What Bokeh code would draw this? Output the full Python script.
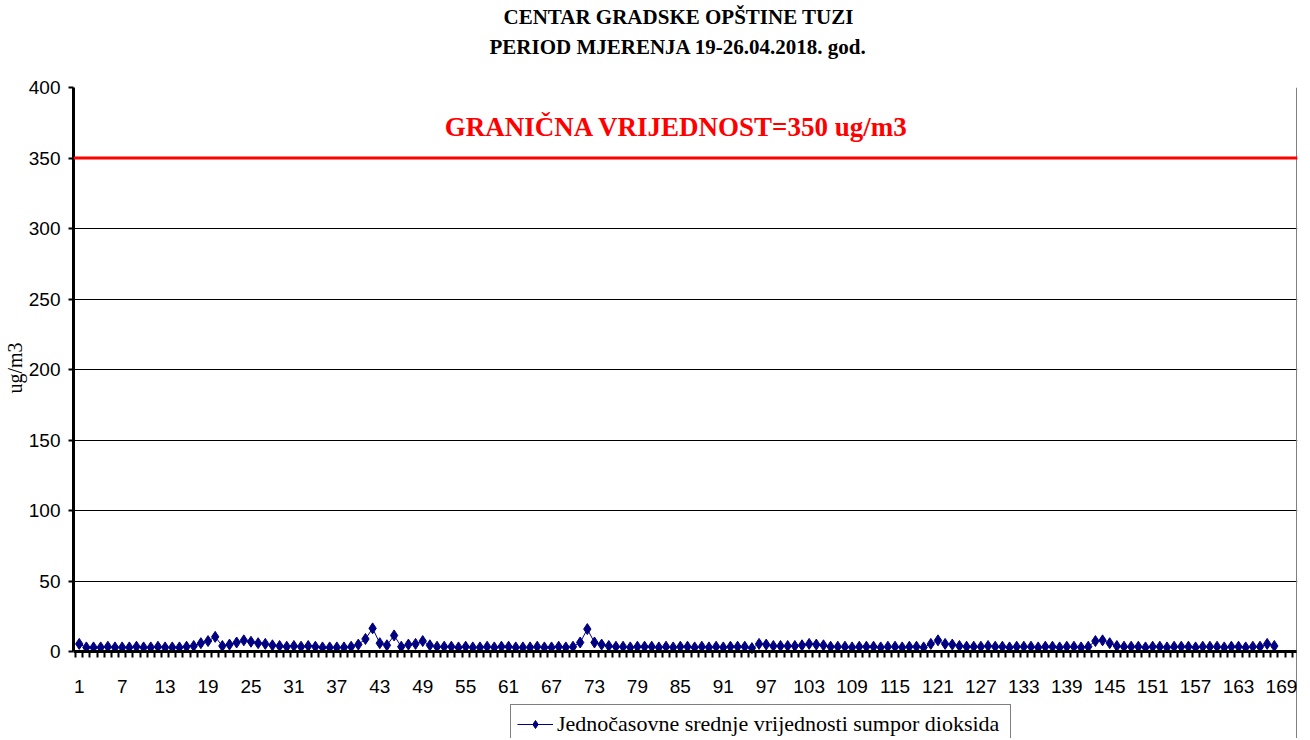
from bokeh.plotting import figure
from bokeh.models import Range1d, FixedTicker, Span, Label, Title, Legend, LegendItem, Grid
from bokeh.embed import file_html
from bokeh.resources import INLINE

hours = list(range(1, 169))
so2 = [
    5.5, 3, 3, 3, 3.5, 3, 3, 3, 3.5, 3,
    3, 3.5, 3, 3, 3, 3.5, 4, 6, 7.5, 10.5,
    4, 5, 6.5, 8, 7, 6, 5.5, 4.5, 4, 3.5,
    4, 3.5, 4, 3.5, 3, 3, 3, 3, 3.5, 5,
    9, 16.5, 6, 4.5, 11.5, 3.5, 5, 5.5, 7.5, 4.5,
    3.5, 3.5, 3.5, 3, 3.5, 3, 3, 3.5, 3, 3.5,
    3.5, 3, 3, 3, 3.5, 3, 3, 3.5, 3, 3.5,
    6.5, 16, 6.5, 5, 4, 3.5, 3.5, 3, 3.5, 3.5,
    3.5, 3, 3.5, 3, 3.5, 3.5, 3, 3.5, 3, 3.5,
    3, 3.5, 3.5, 3.5, 2.5, 5.5, 5, 4, 4, 4,
    4, 4.5, 5.5, 5, 4.5, 3.5, 3.5, 3.5, 3, 3.5,
    3.5, 3.5, 3, 3.5, 3.5, 3, 3.5, 3.5, 3, 5.5,
    8, 5.5, 5, 4, 3.5, 3.5, 3.5, 4, 3.5, 3.5,
    3, 3.5, 3.5, 3.5, 3, 3.5, 3.5, 3, 3.5, 3.5,
    3, 3.5, 7.5, 8, 6, 4, 3.5, 3.5, 3.5, 3,
    3.5, 3.5, 3, 3.5, 3.5, 3.5, 3, 3.5, 3.5, 3.5,
    3, 3.5, 3.5, 3, 3.5, 3.5, 5.5, 4,
]
x_tick_labels = [1, 7, 13, 19, 25, 31, 37, 43, 49, 55, 61, 67, 73, 79, 85, 91, 97,
                 103, 109, 115, 121, 127, 133, 139, 145, 151, 157, 163, 169]
y_ticks = [0, 50, 100, 150, 200, 250, 300, 350, 400]
limit_value = 350
title_line1 = "CENTAR GRADSKE OPŠTINE TUZI"
title_line2 = "PERIOD MJERENJA 19-26.04.2018. god."
limit_text = "GRANIČNA VRIJEDNOST=350 ug/m3"
y_title = "ug/m3"
series_name = "Jednočasovne srednje vrijednosti sumpor dioksida"

X_START, X_END, X_BORDER = 0.2, 171.24, 171.1
Y_MIN, Y_MAX = 0, 400
Y_VIEW_MIN = -61.59  # room under the axis for tick labels and legend

p = figure(width=1300, height=738, output_backend="svg", toolbar_location=None,
           x_range=Range1d(X_START, X_END), y_range=Range1d(Y_VIEW_MIN, Y_MAX),
           min_border_left=69, min_border_right=3, min_border_top=86, min_border_bottom=0,
           background_fill_color="white", border_fill_color="white")

# titles (first added sits closest to the frame)
spacer = Title(text=" ", text_font_size="1px", standoff=24)
t2 = Title(text=title_line2, align="left", offset=416, text_font="Liberation Serif",
           text_font_size="21px", text_font_style="bold", text_color="black", standoff=4)
t1 = Title(text=title_line1, align="left", offset=430, text_font="Liberation Serif",
           text_font_size="21px", text_font_style="bold", text_color="black", standoff=4)
p.add_layout(spacer, "above")
p.add_layout(t2, "above")
p.add_layout(t1, "above")

# grid and chart border
p.outline_line_color = None
p.xgrid.visible = False
p.ygrid.ticker = FixedTicker(ticks=y_ticks[1:-1])
p.ygrid.grid_line_color = "black"
p.ygrid.grid_line_width = 1
p.add_layout(Grid(dimension=1, ticker=FixedTicker(ticks=[Y_MAX]), grid_line_color="#808080",
                  grid_line_width=1))
p.add_layout(Grid(dimension=0, ticker=FixedTicker(ticks=[X_BORDER]), bounds=(Y_MIN, Y_MAX),
                  grid_line_color="#808080", grid_line_width=1))

# limit line
p.add_layout(Span(location=limit_value, dimension="width", line_color="red", line_width=3))
p.add_layout(Label(x=84.5, y=371.7, text=limit_text, text_align="center", text_baseline="middle",
                   text_color="red", text_font="Liberation Serif", text_font_size="27px",
                   text_font_style="bold"))

# data
r_line = p.line(hours, so2, line_color="#000080", line_width=1)
r_pts = p.scatter(hours, so2, marker="diamond", size=11,
                  fill_color="#000080", line_color="#000080")

# axes
xa = p.xaxis[0]
xa.fixed_location = 0
xa.bounds = (X_START, X_BORDER)
xa.ticker = FixedTicker(ticks=x_tick_labels, minor_ticks=[h + 0.5 for h in range(0, 171)])
xa.axis_line_width = 3
xa.axis_line_color = "black"
xa.major_tick_in = 0
xa.major_tick_out = 0
xa.minor_tick_in = 0
xa.minor_tick_out = 6
xa.minor_tick_line_width = 2
xa.minor_tick_line_color = "black"
xa.major_label_text_font = "Liberation Sans"
xa.major_label_text_font_size = "19px"
xa.major_label_text_color = "black"
xa.major_label_standoff = 22

ya = p.yaxis[0]
ya.bounds = (Y_MIN, Y_MAX)
ya.ticker = FixedTicker(ticks=y_ticks, minor_ticks=[])
ya.axis_line_width = 3
ya.axis_line_color = "black"
ya.major_tick_in = 0
ya.major_tick_out = 5
ya.major_tick_line_width = 2
ya.major_tick_line_color = "black"
ya.minor_tick_out = 0
ya.minor_tick_in = 0
ya.major_label_text_font = "Liberation Sans"
ya.major_label_text_font_size = "19px"
ya.major_label_text_color = "black"
ya.major_label_standoff = 8
# leading no-break spaces lift the rotated title to the middle of the 0-400 span
ya.axis_label = "\u00a0" * 18 + y_title
ya.axis_label_text_font = "Liberation Serif"
ya.axis_label_text_font_size = "20px"
ya.axis_label_text_font_style = "normal"
ya.axis_label_text_color = "black"
ya.axis_label_standoff = 0

legend = Legend(items=[LegendItem(label=series_name, renderers=[r_line, r_pts])],
                location=(437, -6), padding=6, margin=0, glyph_width=36, glyph_height=20,
                label_standoff=4, label_width=447,
                label_text_font="Liberation Serif", label_text_font_size="22px",
                label_text_color="black", border_line_color="black", border_line_width=1,
                background_fill_color="white", background_fill_alpha=1)
p.add_layout(legend)

open("out.html", "w").write(file_html(p, INLINE))
